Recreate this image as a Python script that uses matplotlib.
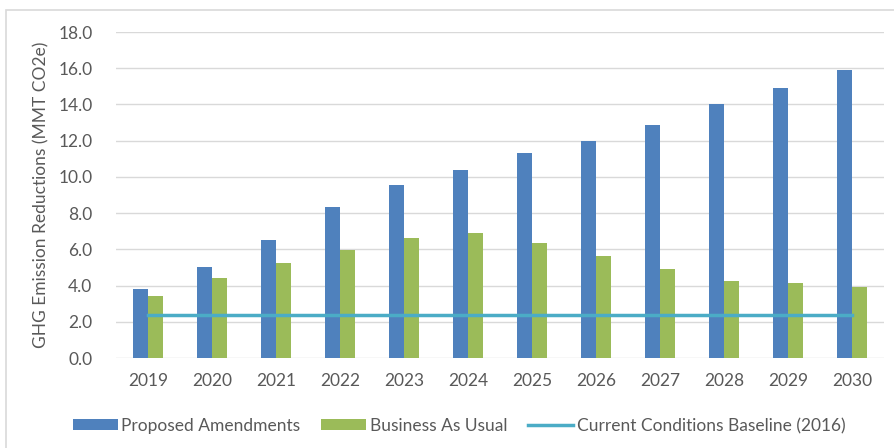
import matplotlib
matplotlib.use("Agg")
import matplotlib.pyplot as plt
import numpy as np
from matplotlib.patches import Rectangle

years = ["2019", "2020", "2021", "2022", "2023", "2024", "2025", "2026", "2027", "2028", "2029", "2030"]
proposed = [3.8, 5.0, 6.5, 8.35, 9.55, 10.4, 11.3, 12.0, 12.85, 14.0, 14.9, 15.9]
bau = [3.45, 4.4, 5.25, 5.97, 6.6, 6.9, 6.37, 5.65, 4.93, 4.27, 4.13, 3.93]
baseline = 2.35
yticks = [0, 2, 4, 6, 8, 10, 12, 14, 16, 18]

plt.rcParams['font.family'] = ['Lato', 'DejaVu Sans']
text_color = "#595959"

fig = plt.figure(figsize=(8.95, 4.48), dpi=100)
ax = fig.add_axes([116/895, 1-358/448, (884-116)/895, (358-32)/448])

x = np.arange(len(years))
w = 0.235
b1 = ax.bar(x - w/2, proposed, width=w, color="#4F81BD", label="Proposed Amendments", zorder=3)
b2 = ax.bar(x + w/2, bau, width=w, color="#9BBB59", label="Business As Usual", zorder=3)
l1, = ax.plot(x, [baseline]*len(x), color="#4BACC6", linewidth=2.5,
              label="Current Conditions Baseline (2016)", zorder=4)

ax.set_xlim(-0.5, len(years)-0.5)
ax.set_ylim(0, 18)
ax.set_yticks(yticks)
ax.set_yticklabels([f"{v:.1f}" for v in yticks])
ax.set_xticks(x)
ax.set_xticklabels(years)
ax.tick_params(axis='both', length=0, colors=text_color, labelsize=12.5)
ax.tick_params(axis='x', pad=11)
ax.tick_params(axis='y', pad=17)
ax.grid(axis='y', color="#D9D9D9", linewidth=1, zorder=0)
for s in ax.spines.values():
    s.set_visible(False)
ax.set_ylabel("GHG Emission Reductions (MMT CO2e)", color=text_color, fontsize=12.5, labelpad=6)

fig.legend([b1, b2, l1], [b1.get_label(), b2.get_label(), l1.get_label()],
           loc='center', bbox_to_anchor=(459/895, 1-426/448), ncol=3,
           frameon=False, fontsize=12.5, labelcolor=text_color, handlelength=2.6,
           handleheight=0.6, handletextpad=0.2, columnspacing=1.2)

fig.patches.append(Rectangle((6/895, -0.1), 1.2, 1-10/448+0.1, transform=fig.transFigure,
                             fill=False, edgecolor="#D9D9D9", linewidth=1.2))

fig.savefig("out.png", dpi=100)
